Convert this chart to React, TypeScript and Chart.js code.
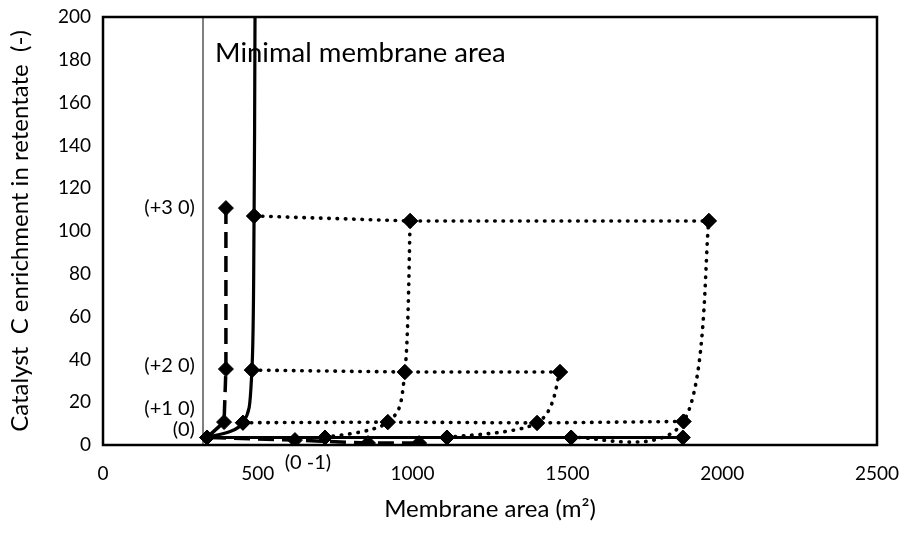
import React, { useEffect, useRef } from 'react';
import { Chart, registerables } from 'chart.js';

Chart.register(...registerables);

// Data (x = membrane area m², y = enrichment)
const minimalAreaLine = [{ x: 323, y: 0 }, { x: 323, y: 200 }];

// Thick solid boundary curve (minimal area) going to infinity
const boundaryCurve = [
  { x: 336, y: 3.5 },
  { x: 452, y: 10.4 },
  { x: 481, y: 35 },
  { x: 488, y: 107 },
  { x: 491, y: 200 },
];
const boundaryRadius = [7.5, 7.5, 7.5, 7.5, 0];

// Dashed series (vertical) + (0 -1) row
const dashedSeries = [
  { x: 397, y: 110.7 },
  { x: 397, y: 35.5 },
  { x: 391, y: 10.7 },
  { x: 336, y: 3.5 },
  { x: 620, y: 2.3 },
  { x: 856, y: 0.9 },
  { x: 1021, y: 0.9 },
];
const dashedRadius = [7.5, 7.5, 7.5, 0, 7.5, 7.5, 7.5];

// Rows
const rowPlus3 = [{ x: 488, y: 107 }, { x: 992, y: 104.7 }, { x: 1957, y: 104.7 }];
const rowPlus2 = [{ x: 481, y: 35 }, { x: 975, y: 34.1 }, { x: 1476, y: 34.1 }];
const rowPlus1 = [{ x: 452, y: 10.4 }, { x: 920, y: 10.7 }, { x: 1402, y: 10.3 }, { x: 1875, y: 11 }];
const rowZero = [{ x: 336, y: 3.5 }, { x: 717, y: 3.5 }, { x: 1111, y: 3.5 }, { x: 1512, y: 3.5 }, { x: 1873, y: 3.5 }];

// Columns (smoothed dotted)
const colA = [{ x: 717, y: 3.5 }, { x: 920, y: 10.7 }, { x: 975, y: 34.1 }, { x: 992, y: 104.7 }];
const colB = [{ x: 1111, y: 3.5 }, { x: 1402, y: 10.3 }, { x: 1476, y: 34.1 }];
const colC = [{ x: 1512, y: 3.5 }, { x: 1875, y: 11 }, { x: 1957, y: 104.7 }];

const xTicks = [0, 500, 1000, 1500, 2000, 2500];
const yTicks = [0, 20, 40, 60, 80, 100, 120, 140, 160, 180, 200];

const labelTexts = ['Minimal membrane area', '(+3 0)', '(+2 0)', '(+1 0)', '(0)', '(0 -1)'];
const labelAnchors = [
  { x: 362, y: 183 },
  { x: 297, y: 111 },
  { x: 297, y: 37 },
  { x: 297, y: 17 },
  { x: 297, y: 7 },
  { x: 662, y: -8 },
];

const FONT = 'Lato, "Open Sans", sans-serif';

// Spreadsheet-style smoothing: Catmull-Rom tangents of (next - prev) / 6
const smoothPlugin = {
  id: 'sheetSmooth',
  beforeDatasetDraw(chart: any, args: any) {
    const ds = chart.data.datasets[args.index];
    if (!ds.sheetSmooth) return;
    const meta = args.meta;
    const pts = meta.data;
    const n = pts.length;
    for (let i = 0; i < n; i++) {
      const p = pts[i];
      const prev = pts[Math.max(i - 1, 0)];
      const next = pts[Math.min(i + 1, n - 1)];
      const tx = (next.x - prev.x) / 6;
      const ty = (next.y - prev.y) / 6;
      p.cp1x = p.x - tx;
      p.cp1y = p.y - ty;
      p.cp2x = p.x + tx;
      p.cp2y = p.y + ty;
    }
    meta.dataset._pointsUpdated = true;
    meta.dataset._path = undefined;
  },
};

const framePlugin = {
  id: 'frameAndLabels',
  afterDatasetsDraw(chart: any) {
    const { ctx, chartArea: a, scales } = chart;
    ctx.save();
    ctx.strokeStyle = '#000';
    ctx.lineWidth = 2.5;
    ctx.strokeRect(a.left, a.top, a.right - a.left, a.bottom - a.top);
    ctx.fillStyle = '#000';
    ctx.textBaseline = 'middle';
    labelTexts.forEach((t, i) => {
      const px = scales.x.getPixelForValue(labelAnchors[i].x);
      const py = scales.y.getPixelForValue(labelAnchors[i].y);
      if (i === 0) {
        ctx.font = `27.5px ${FONT}`;
        ctx.textAlign = 'left';
      } else if (i === 5) {
        ctx.font = `20px ${FONT}`;
        ctx.textAlign = 'center';
      } else {
        ctx.font = `20px ${FONT}`;
        ctx.textAlign = 'right';
      }
      ctx.fillText(t, px, py);
    });
    ctx.restore();
  },
};

const dotted = {
  borderDash: [0.5, 7.8],
  borderCapStyle: 'round' as const,
  borderWidth: 3.6,
};

function makeDs(data: any[], extra: any) {
  return {
    data,
    showLine: true,
    borderColor: '#000',
    backgroundColor: '#000',
    pointStyle: 'rectRot',
    pointRadius: 7.5,
    pointBorderWidth: 1,
    pointBorderColor: '#000',
    pointBackgroundColor: '#000',
    tension: 0,
    ...extra,
  };
}

export default function App() {
  const ref = useRef<HTMLCanvasElement>(null);
  useEffect(() => {
    document.body.style.margin = '0';
    const chart = new Chart(ref.current!, {
      type: 'scatter',
      data: {
        datasets: [
          makeDs(minimalAreaLine, { borderWidth: 1, pointRadius: 0, clip: false }),
          makeDs(rowZero, { borderWidth: 3 }),
          makeDs(dashedSeries, { borderWidth: 3.5, borderDash: [16, 8], pointRadius: dashedRadius }),
          makeDs(rowPlus3, { ...dotted }),
          makeDs(rowPlus2, { ...dotted }),
          makeDs(rowPlus1, { ...dotted }),
          makeDs(colA, { ...dotted, tension: 0.4, sheetSmooth: true }),
          makeDs(colB, { ...dotted, tension: 0.4, sheetSmooth: true }),
          makeDs(colC, { ...dotted, tension: 0.4, sheetSmooth: true }),
          makeDs(boundaryCurve, { borderWidth: 3.2, tension: 0.4, sheetSmooth: true, pointRadius: boundaryRadius }),
        ] as any,
      },
      options: {
        animation: false,
        responsive: false,
        maintainAspectRatio: false,
        layout: { padding: { top: 17, right: 28, left: 0, bottom: 0 } },
        plugins: { legend: { display: false }, tooltip: { enabled: false } },
        scales: {
          x: {
            type: 'linear',
            min: 0,
            max: 2500,
            afterBuildTicks: (s: any) => { s.ticks = xTicks.map((v) => ({ value: v })); },
            afterFit: (s: any) => { s.height = 88; s.paddingLeft = 0; s.paddingRight = 0; },
            grid: { display: false },
            border: { display: false },
            ticks: {
              color: '#000',
              font: { family: FONT, size: 19 },
              padding: 9,
              maxRotation: 0,
              callback: (v: any) => String(v),
            },
            title: {
              display: true,
              text: 'Membrane area (m²)',
              color: '#000',
              font: { family: FONT, size: 24 },
              padding: { top: 0, bottom: 9 },
            },
          },
          y: {
            type: 'linear',
            min: 0,
            max: 200,
            afterBuildTicks: (s: any) => { s.ticks = yTicks.map((v) => ({ value: v })); },
            afterFit: (s: any) => { s.width = 103; s.paddingTop = 0; s.paddingBottom = 0; },
            grid: { display: false },
            border: { display: false },
            ticks: {
              color: '#000',
              font: { family: FONT, size: 19 },
              padding: 4,
              callback: (v: any) => String(v),
            },
            title: {
              display: true,
              text: 'Catalyst  C enrichment in retentate  (-)',
              color: '#000',
              font: { family: FONT, size: 24 },
              padding: { top: 6, bottom: 0 },
            },
          },
        },
      },
      plugins: [smoothPlugin, framePlugin],
    });
    return () => chart.destroy();
  }, []);
  return (
    <div style={{ position: 'absolute', left: 0, top: 0, width: 905, height: 533 }}>
      <canvas ref={ref} width={905} height={533} style={{ width: 905, height: 533 }} />
    </div>
  );
}
